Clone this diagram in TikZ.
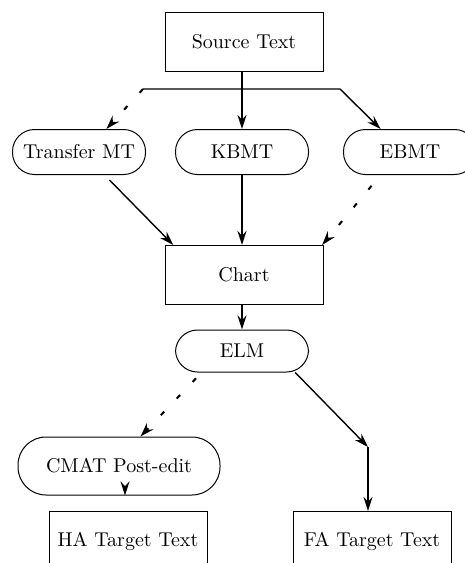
\documentclass[tikz,border=0pt]{standalone}
\usepackage{tikz}
\usetikzlibrary{arrows.meta,positioning,calc}

\begin{document}
\begin{tikzpicture}[
        x=0.5pt, y=-0.5pt,
        box/.style={rectangle, draw, line width=0.5pt, minimum width=79pt, minimum height=29.5pt, align=center},
        rbox/.style={rectangle, draw, line width=0.5pt, minimum width=66.5pt, minimum height=22.5pt, rounded corners=11pt, align=center},
        arrow/.style={-{Stealth[length=7pt, width=4.5pt]}, line width=0.7pt},
        dasharrow/.style={-{Stealth[length=7pt, width=4.5pt]}, line width=1pt, dash pattern=on 2.5pt off 9pt}
    ]
        \useasboundingbox (0,0) rectangle (465,563);

        % Source
        \node[box] (src) at (244,42) {Source Text};

        % MT engines
        \node[rbox] (tmt) at (79,152) {Transfer MT};
        \node[rbox] (kbmt) at (242,152) {KBMT};
        \node[rbox] (ebmt) at (410,152) {EBMT};

        % Chart and ELM
        \node[box] (chart) at (244,275) {Chart};
        \node[rbox, minimum height=21pt] (elm) at (242,351) {ELM};

        % Post-edit and targets
        \node[rbox, minimum width=101pt, minimum height=29pt, rounded corners=14pt] (cmat) at (119,466) {CMAT Post-edit};
        \node[box] (ha) at (128,541) {HA Target Text};
        \node[box] (fa) at (372,541) {FA Target Text};

        \coordinate (split-l) at (143,89);
        \coordinate (split-r) at (340,89);
        \coordinate (fa-bend) at (368,447);

        % Arrows
        \draw[arrow] (src.south -| kbmt.north) -- (kbmt.north);
        \draw[arrow] (split-l) -- (split-r) -- (ebmt.142);
        \draw[dasharrow] (split-l) -- (tmt.40);
        \draw[arrow, shorten <=3.5pt] (tmt.-42) -- (chart.157);
        \draw[arrow] (kbmt.south) -- (kbmt.south |- chart.north);
        \draw[dasharrow, shorten <=7pt] (ebmt.218) -- (chart.21);
        \draw[arrow] (chart.south -| elm.north) -- (elm.north);
        \draw[arrow] (elm.-22) -- (fa-bend);
        \draw[arrow] (fa-bend) -- (fa-bend |- fa.north);
        \draw[dasharrow, shorten <=4pt] (elm.-152) -- (cmat.54);
        \draw[arrow] ($(cmat.south)+(6,-5)$) -- ($(cmat.south)+(6,0)$ |- ha.north);
    \end{tikzpicture}
\end{document}
